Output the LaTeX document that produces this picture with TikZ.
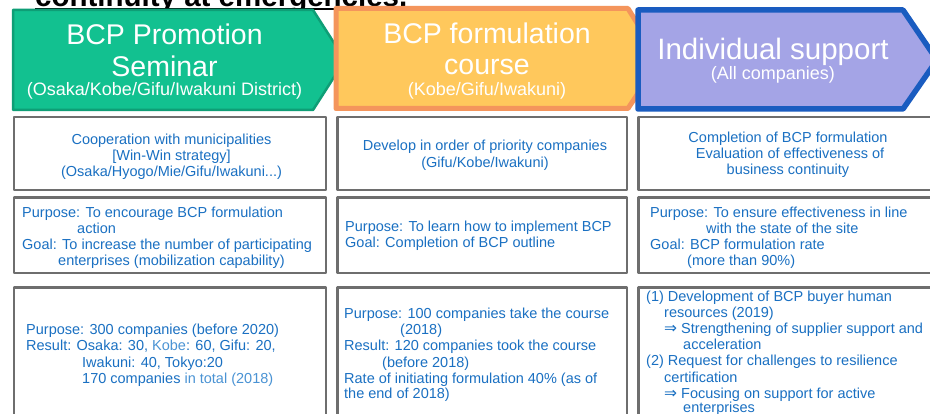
\documentclass[tikz,border=0pt]{standalone}
\usepackage{fontspec}
\setmainfont{Liberation Sans}
\newfontfamily\symfont{DejaVu Sans}
\definecolor{grfill}{HTML}{12C190}
\definecolor{grline}{HTML}{0E9E76}
\definecolor{orfill}{HTML}{FFC85C}
\definecolor{orline}{HTML}{F4955C}
\definecolor{blfill}{HTML}{A4A4E6}
\definecolor{blline}{HTML}{1A5CC0}
\definecolor{txtblue}{HTML}{1A70C2}
\definecolor{txtlight}{HTML}{4A93D4}
\definecolor{boxline}{HTML}{6E6E6E}
\newcounter{txn}
\newcommand\txl[3]{\stepcounter{txn}\node[bodytxt,anchor=base west] (t\arabic{txn}) at (#1,#2) {#3};}
\newcommand\txc[3]{\stepcounter{txn}\node[bodytxt,anchor=base] (t\arabic{txn}) at (#1,#2) {#3};}
\newcommand\lt[1]{\textcolor{txtlight}{#1}}
\newcommand\darr{{\symfont\fontsize{15.5}{16}\selectfont ⇒}}
\begin{document}
\begin{tikzpicture}[x=1pt,y=-1pt,
  bodytxt/.style={inner sep=0pt,text=txtblue,font=\fontsize{14.5}{16}\selectfont},
  headbig/.style={inner sep=0pt,anchor=base,text=white,font=\fontsize{28.5}{30}\selectfont},
  headsmall/.style={inner sep=0pt,anchor=base,text=white,font=\fontsize{18}{20}\selectfont},
  infobox/.style={draw=boxline,line width=2.6pt,fill=white},
  line join=round]
\useasboundingbox (0,0) rectangle (930,414);
\clip (0,0) rectangle (930,414);
\fill[white] (0,0) rectangle (930,414);
% title (cut off at top)
\node[inner sep=0pt,anchor=base west,font=\fontsize{29.5}{30}\selectfont\bfseries] (title) at (35,6.5) {continuity at emergencies.};
\draw[line width=1.8pt] ([yshift=-2.8pt]title.base west) -- ([yshift=-2.8pt]title.base east);
% header arrows
\filldraw[fill=grfill,draw=grline,line width=2.5pt] (13,10) -- (313,10) -- (345,60) -- (313,110) -- (13,110) -- cycle;
\filldraw[fill=orfill,draw=orline,line width=5pt] (336,8.5) -- (628,8.5) -- (660,60) -- (628,108.5) -- (336,108.5) -- cycle;
\filldraw[fill=blfill,draw=blline,line width=5.5pt] (638,10) -- (903,10) -- (937,60) -- (903,109) -- (638,109) -- cycle;
% header texts
\node[headbig] (h1a) at (164.5,45) {BCP Promotion};
\node[headbig] (h1b) at (164.5,77) {Seminar};
\node[headsmall] (h1c) at (164.5,96) {(Osaka/Kobe/Gifu/Iwakuni District)};
\node[headbig] (h2a) at (487,44) {BCP formulation};
\node[headbig] (h2b) at (487,75) {course};
\node[headsmall] (h2c) at (487,96) {(Kobe/Gifu/Iwakuni)};
\node[headbig,font=\fontsize{29.5}{30}\selectfont] (h3a) at (773,60) {Individual support};
\node[headsmall] (h3b) at (773,80) {(All companies)};
% boxes
\draw[infobox] (14,117) rectangle (326,190);
\draw[infobox] (14,197.5) rectangle (326,273);
\draw[infobox] (14,287.5) rectangle (326,430);
\draw[infobox] (337.5,117) rectangle (627,190);
\draw[infobox] (337.5,197.5) rectangle (627,273);
\draw[infobox] (337.5,287.5) rectangle (627,430);
\draw[infobox] (638.5,117) rectangle (933,190);
\draw[infobox] (638.5,197.5) rectangle (933,273);
\draw[infobox] (638.5,287.5) rectangle (933,430);
% row 1
\txc{171.5}{145}{Cooperation with municipalities}
\txc{171.5}{161}{[Win-Win strategy]}
\txc{171.5}{177}{(Osaka/Hyogo/Mie/Gifu/Iwakuni...)}
\txc{485}{151}{Develop in order of priority companies}
\txc{485}{168}{(Gifu/Kobe/Iwakuni)}
\txc{788}{143}{Completion of BCP formulation}
\txc{790}{159}{Evaluation of effectiveness of}
\txc{788}{175}{business continuity}
% row 2
\txl{22}{218}{Purpose: To encourage BCP formulation}
\txl{77}{234}{action}
\txl{22}{250}{Goal: To increase the number of participating}
\txl{58}{266}{enterprises (mobilization capability)}
\txl{345}{232}{Purpose: To learn how to implement BCP}
\txl{345}{248}{Goal: Completion of BCP outline}
\txl{650}{218}{Purpose: To ensure effectiveness in line}
\txl{706}{234}{with the state of the site}
\txl{650}{250}{Goal: BCP formulation rate}
\txl{687}{266}{(more than 90\%)}
% row 3
\txl{26}{335}{Purpose: 300 companies (before 2020)}
\txl{26}{351}{Result: Osaka: 30, \lt{Kobe}: 60, Gifu: 20,}
\txl{82}{367}{Iwakuni: 40, Tokyo:20}
\txl{82}{383}{170 companies \lt{in total (2018)}}
\txl{344}{319}{Purpose: 100 companies take the course}
\txl{400}{335}{(2018)}
\txl{344}{351}{Result: 120 companies took the course}
\txl{382}{367}{(before 2018)}
\txl{344}{383}{Rate of initiating formulation 40\% (as of}
\txl{344}{398}{the end of 2018)}
\txl{646}{302}{(1) Development of BCP buyer human}
\txl{664}{318}{resources (2019)}
\txl{664}{334}{\darr{} Strengthening of supplier support and}
\txl{683}{350}{acceleration}
\txl{646}{366}{(2) Request for challenges to resilience}
\txl{664}{382}{certification}
\txl{664}{398}{\darr{} Focusing on support for active}
\txl{683}{413}{enterprises}
\end{tikzpicture}
\end{document}
